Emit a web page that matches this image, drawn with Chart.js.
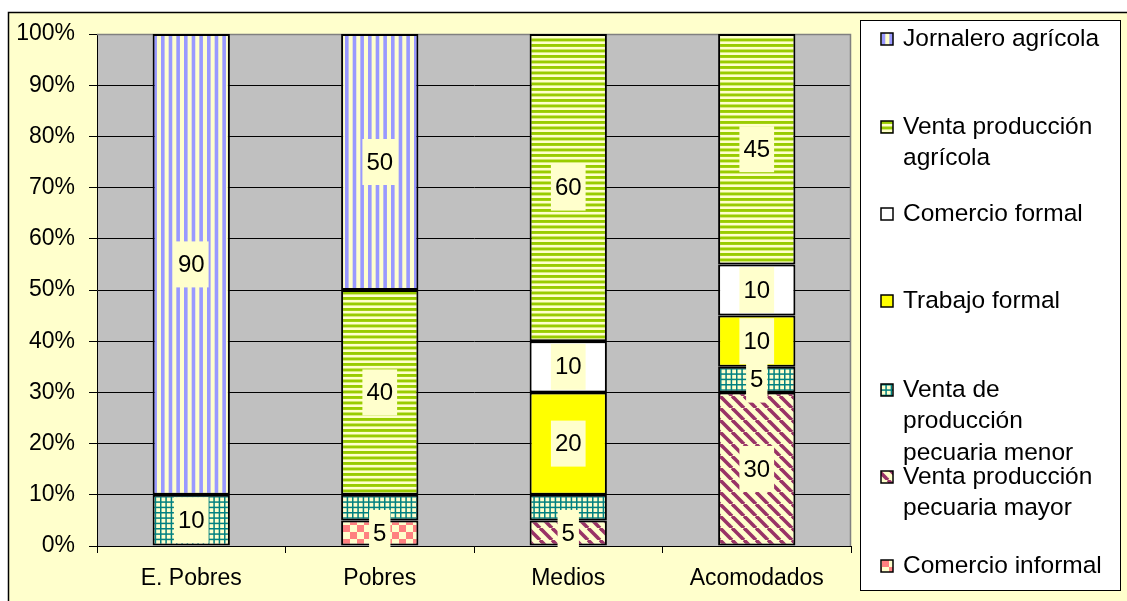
<!DOCTYPE html>
<html>
<head>
<meta charset="utf-8">
<script src="https://cdn.jsdelivr.net/npm/chart.js@4.4.1/dist/chart.umd.min.js"></script>
<style>
html, body { margin: 0; padding: 0; background: #fff; }
#contenedor { width: 1127px; height: 601px; }
</style>
</head>
<body>
<div id="contenedor"><canvas id="grafico" width="1127" height="601"></canvas></div>
<script>
// Datos (porcentaje de ingresos por grupo)
const categorias = ['E. Pobres', 'Pobres', 'Medios', 'Acomodados'];
const comercioInformal = [0, 5, 0, 0];
const pecuariaMayor = [0, 0, 5, 30];
const pecuariaMenor = [10, 5, 5, 5];
const trabajoFormal = [0, 0, 20, 10];
const comercioFormal = [0, 0, 10, 10];
const ventaAgricola = [0, 40, 60, 45];
const jornalero = [90, 50, 0, 0];
const ticksY = [0, 10, 20, 30, 40, 50, 60, 70, 80, 90, 100];
// etiquetas que no aparecen en el original
const etiquetasOcultas = [['Venta de producción pecuaria menor', 1], ['Venta de producción pecuaria menor', 2]];

const CREMA = '#FFFFCC';
const FUENTE = "'Liberation Sans', Arial, sans-serif";

const canvas = document.getElementById('grafico');
const ctx = canvas.getContext('2d');

function crearPatron(w, h, dibujar) {
    const c = document.createElement('canvas');
    c.width = w;
    c.height = h;
    const g = c.getContext('2d');
    g.fillStyle = CREMA;
    g.fillRect(0, 0, w, h);
    dibujar(g);
    return ctx.createPattern(c, 'repeat');
}

const patronVertical = crearPatron(23, 4, g => {
    g.fillStyle = '#9999FF';
    [0, 7.67, 15.33].forEach(x => g.fillRect(x, 0, 3.6, 4));
});
const patronHorizontal = crearPatron(4, 11, g => {
    g.fillStyle = '#99CC00';
    [0, 5.5].forEach(y => g.fillRect(0, y, 4, 2.9));
});
const patronCuadricula = crearPatron(16, 16, g => {
    g.fillStyle = '#008080';
    [0, 5.33, 10.67].forEach(p => {
        g.fillRect(p, 0, 1.5, 16);
        g.fillRect(0, p, 16, 1.5);
    });
});
const patronAjedrez = crearPatron(14, 14, g => {
    g.fillStyle = '#FF8080';
    g.fillRect(0, 0, 7, 7);
    g.fillRect(7, 7, 7, 7);
});
const patronDiagonal = crearPatron(12, 12, g => {
    g.strokeStyle = '#993366';
    g.lineWidth = 3.6;
    [-12, 0, 12].forEach(x => {
        g.beginPath();
        g.moveTo(x, 0);
        g.lineTo(x + 12, 12);
        g.stroke();
    });
});

// series de abajo hacia arriba
const series = [
    { nombre: 'Comercio informal', lineas: ['Comercio informal'], datos: comercioInformal, relleno: patronAjedrez },
    { nombre: 'Venta producción pecuaria mayor', lineas: ['Venta producción', 'pecuaria mayor'], datos: pecuariaMayor, relleno: patronDiagonal },
    { nombre: 'Venta de producción pecuaria menor', lineas: ['Venta de', 'producción', 'pecuaria menor'], datos: pecuariaMenor, relleno: patronCuadricula },
    { nombre: 'Trabajo formal', lineas: ['Trabajo formal'], datos: trabajoFormal, relleno: '#FFFF00' },
    { nombre: 'Comercio formal', lineas: ['Comercio formal'], datos: comercioFormal, relleno: '#FFFFFF' },
    { nombre: 'Venta producción agrícola', lineas: ['Venta producción', 'agrícola'], datos: ventaAgricola, relleno: patronHorizontal },
    { nombre: 'Jornalero agrícola', lineas: ['Jornalero agrícola'], datos: jornalero, relleno: patronVertical }
];

// Fondo, marco y área de trazado gris
const fondoPlugin = {
    id: 'fondo',
    beforeDraw(chart) {
        const c = chart.ctx;
        const a = chart.chartArea;
        c.save();
        c.fillStyle = '#FFFFFF';
        c.fillRect(0, 0, chart.width, chart.height);
        c.fillStyle = CREMA;
        c.fillRect(8.5, 12.5, chart.width + 20, chart.height + 20);
        c.strokeStyle = '#000';
        c.lineWidth = 1.5;
        c.strokeRect(8.5, 12.5, chart.width + 20, chart.height + 20);
        c.fillStyle = '#C0C0C0';
        c.fillRect(a.left, a.top, a.right - a.left, a.bottom - a.top);
        c.restore();
    },
    beforeDatasetsDraw(chart) {
        const c = chart.ctx;
        const a = chart.chartArea;
        c.save();
        c.strokeStyle = '#808080';
        c.lineWidth = 1.5;
        c.beginPath();
        c.moveTo(a.left, a.top + 0.5);
        c.lineTo(a.right - 0.5, a.top + 0.5);
        c.lineTo(a.right - 0.5, a.bottom);
        c.stroke();
        c.restore();
    }
};

// Etiquetas de datos con caja crema
const etiquetasPlugin = {
    id: 'etiquetas',
    afterDatasetsDraw(chart) {
        const c = chart.ctx;
        c.save();
        c.font = '24px ' + FUENTE;
        c.textAlign = 'center';
        c.textBaseline = 'middle';
        chart.data.datasets.forEach((ds, i) => {
            const meta = chart.getDatasetMeta(i);
            meta.data.forEach((barra, j) => {
                const v = ds.data[j];
                if (!v) return;
                if (etiquetasOcultas.some(e => e[0] === ds.label && e[1] === j)) return;
                const y = (barra.y + barra.base) / 2;
                const texto = String(v);
                const w = c.measureText(texto).width + 8;
                c.fillStyle = CREMA;
                c.fillRect(barra.x - w / 2, y - 23, w, 46);
                c.fillStyle = '#000';
                c.fillText(texto, barra.x, y + 1);
            });
        });
        c.restore();
    }
};

// Leyenda a la derecha
const posicionesLeyenda = [39, 127, 214, 301, 390, 477, 566];
const leyendaPlugin = {
    id: 'leyenda',
    afterDraw(chart) {
        const c = chart.ctx;
        c.save();
        c.fillStyle = '#FFFFFF';
        c.fillRect(860.5, 20.5, 260, 570);
        c.strokeStyle = '#000';
        c.lineWidth = 1;
        c.strokeRect(860.5, 20.5, 260, 570);
        c.font = '24.5px ' + FUENTE;
        c.textBaseline = 'middle';
        c.textAlign = 'left';
        const orden = series.slice().reverse();
        orden.forEach((s, k) => {
            const y0 = posicionesLeyenda[k];
            c.fillStyle = s.relleno;
            c.fillRect(881, y0 - 6, 12, 12);
            c.strokeStyle = '#000';
            c.lineWidth = 1.5;
            c.strokeRect(881, y0 - 6, 12, 12);
            c.fillStyle = '#000';
            s.lineas.forEach((t, n) => c.fillText(t, 903, y0 + n * 31.5));
        });
        c.restore();
    }
};

new Chart(ctx, {
    type: 'bar',
    data: {
        labels: categorias,
        datasets: series.map(s => ({
            label: s.nombre,
            data: s.datos.map(v => v || null),
            backgroundColor: s.relleno,
            borderColor: '#000000',
            borderWidth: 2,
            borderSkipped: false,
            barPercentage: 0.41,
            categoryPercentage: 1
        }))
    },
    options: {
        responsive: false,
        animation: false,
        layout: { padding: { top: 34, right: 276, left: 0, bottom: 0 } },
        plugins: {
            legend: { display: false },
            tooltip: { enabled: false },
            title: { display: false }
        },
        scales: {
            x: {
                stacked: true,
                afterFit(scale) { scale.height = 55; },
                grid: { drawOnChartArea: false, offset: true, color: '#000', tickLength: 7 },
                border: { color: '#000', width: 1 },
                ticks: { color: '#000', font: { family: FUENTE, size: 23 }, padding: 12 }
            },
            y: {
                stacked: true,
                min: 0,
                max: 100,
                afterFit(scale) { scale.width = 97; },
                afterBuildTicks(scale) { scale.ticks = ticksY.map(v => ({ value: v })); },
                grid: { color: '#000', lineWidth: 1, tickLength: 8 },
                border: { color: '#000', width: 1 },
                ticks: {
                    color: '#000',
                    font: { family: FUENTE, size: 23 },
                    padding: 14,
                    callback: v => v + '%'
                }
            }
        }
    },
    plugins: [fondoPlugin, etiquetasPlugin, leyendaPlugin]
});
</script>
</body>
</html>
